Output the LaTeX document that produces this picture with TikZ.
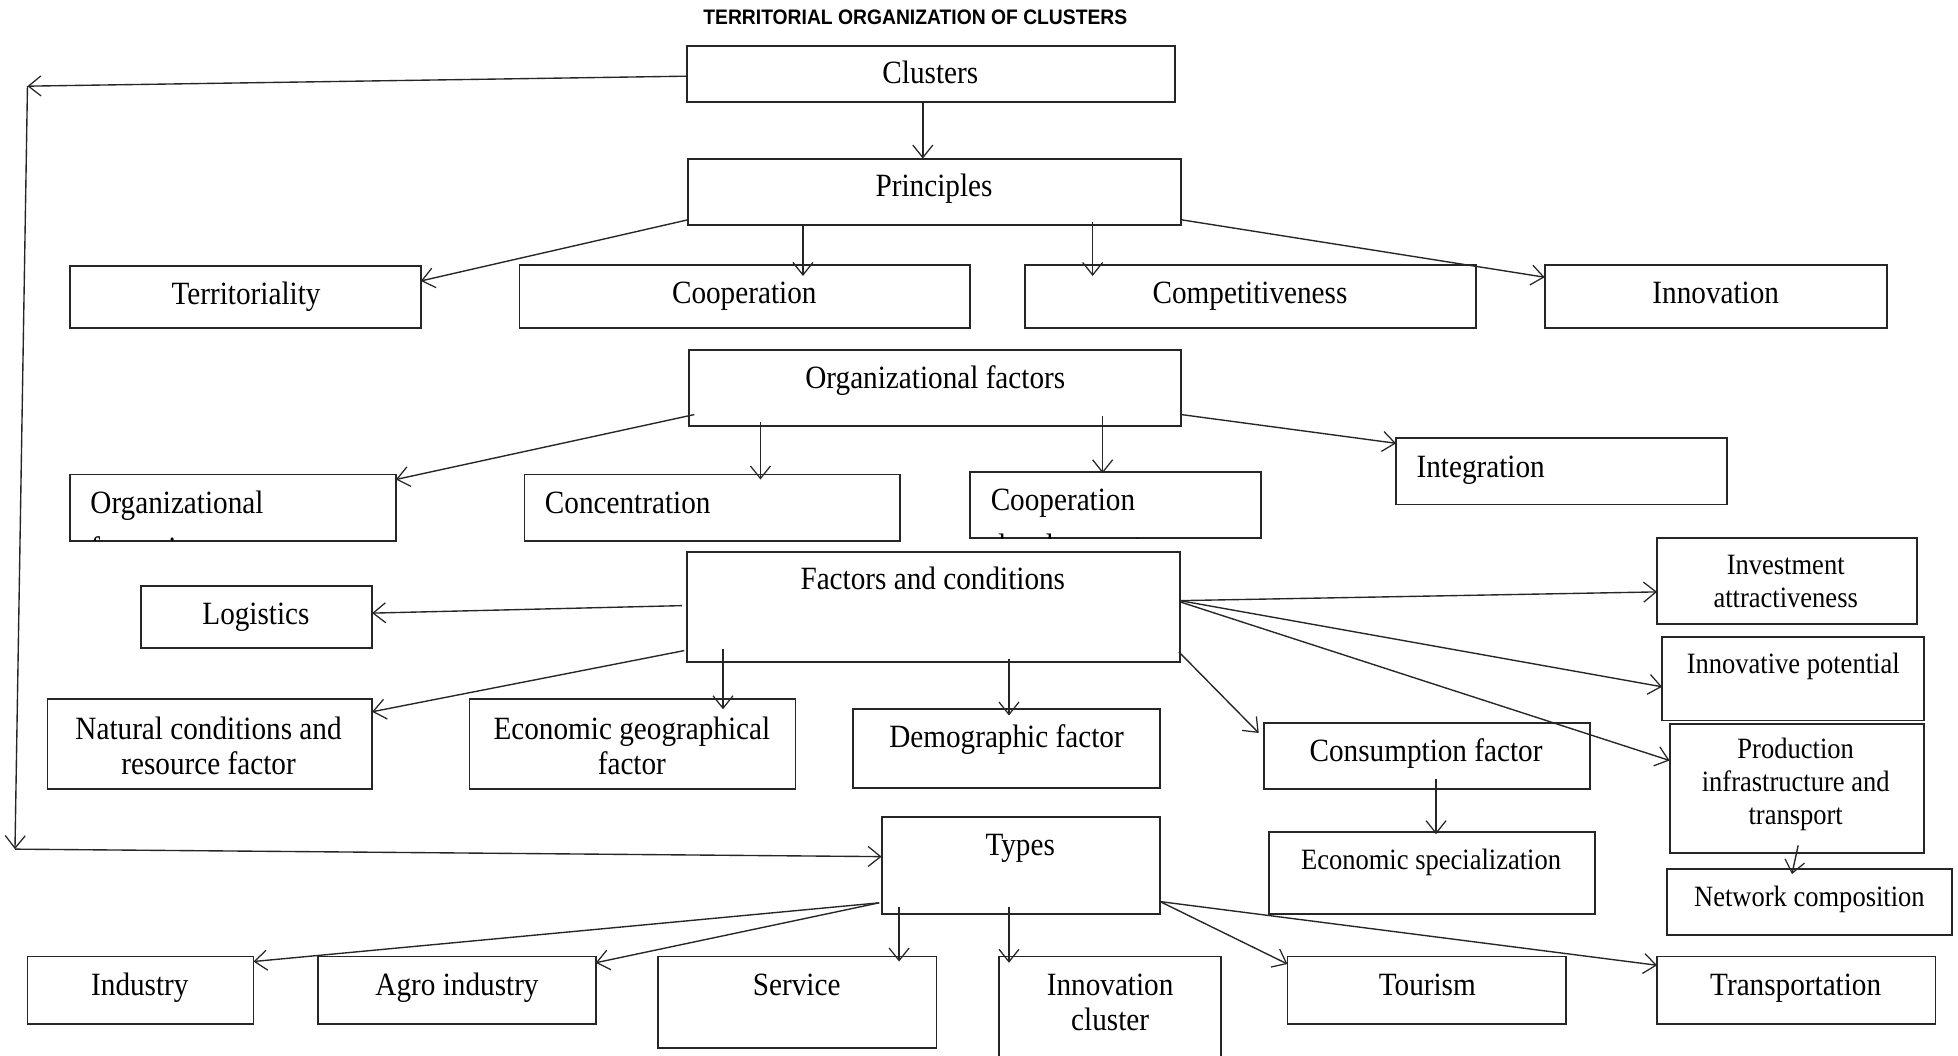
\documentclass[tikz,border=0pt]{standalone}
\usepackage{fontspec}
\setmainfont{Liberation Serif}[FakeStretch=0.90]
\newfontfamily\titlefont{Liberation Sans}[FakeStretch=0.92]
\usetikzlibrary{arrows.meta,fit,calc}
\newcommand\mkbox[5]{\path (#2,#3) coordinate (#1-nw) (#4,#5) coordinate (#1-se); \node[box, fit=(#1-nw)(#1-se)] (#1) {};}
\begin{document}
\begin{tikzpicture}[x=0.5pt,y=-0.5pt,
 box/.style={draw=black!85, line width=0.75pt, inner sep=0pt, outer sep=0pt},
 txt/.style={font=\fontsize{13}{14}\selectfont, inner sep=0pt, align=center, text=black},
 stxt/.style={font=\fontsize{11.8}{13.2}\selectfont, inner sep=0pt, align=center, text=black},
 one/.style={anchor=base},
 arr/.style={-{Straight Barb[length=5pt,width=8pt,line width=0.5pt]}, line width=0.55pt, black!85}]
\clip (0,0) rectangle (1568,845);
\fill[white] (0,0) rectangle (1568,845);

\node[font=\titlefont\bfseries\fontsize{8.4}{10}\selectfont, inner sep=0pt] (title) at (733,14) {TERRITORIAL ORGANIZATION OF CLUSTERS};

% boxes
\mkbox{clusters}{550}{37}{941}{82}
\mkbox{principles}{551}{127}{946}{180}
\mkbox{terr}{56}{213}{337}{263}
\mkbox{coop}{416}{212}{777}{263}
\mkbox{comp}{821}{212}{1182}{263}
\mkbox{innov}{1237}{212}{1511}{263}
\mkbox{orgfac}{552}{280}{946}{341}
\mkbox{orgf}{56}{380}{317}{433}
\mkbox{conc}{420}{380}{721}{433}
\mkbox{coopd}{777}{378}{1010}{431}
\mkbox{integ}{1118}{351}{1383}{404}
\mkbox{fac}{550}{442}{945}{530}
\mkbox{logi}{113}{469}{298}{519}
\mkbox{invest}{1327}{431}{1535}{500}
\mkbox{innpot}{1331}{510}{1541}{577}
\mkbox{nat}{38}{560}{298}{632}
\mkbox{econg}{376}{560}{637}{632}
\mkbox{demo}{683}{568}{929}{631}
\mkbox{cons}{1012}{579}{1273}{632}
\mkbox{prod}{1337}{580}{1541}{683}
\mkbox{econs}{1016}{666}{1277}{732}
\mkbox{netw}{1335}{696}{1563}{749}
\mkbox{types}{706}{654}{929}{732}
\mkbox{ind}{22}{766}{203}{820}
\mkbox{agro}{255}{766}{477}{820}
\mkbox{serv}{527}{766}{750}{839}
\mkbox{innc}{800}{766}{978}{870}
\mkbox{tour}{1031}{766}{1254}{820}
\mkbox{transp}{1327}{766}{1550}{820}

% texts
\node[txt,one] (clusters-t) at (745,67) {Clusters};
\node[txt,one] (principles-t) at (748,157) {Principles};
\node[txt,one] (terr-t) at (197,244) {Territoriality};
\node[txt,one] (coop-t) at (596,243) {Cooperation};
\node[txt,one] (comp-t) at (1001,243) {Competitiveness};
\node[txt,one] (innov-t) at (1374,243) {Innovation};
\node[txt,one] (orgfac-t) at (749,311) {Organizational factors};
\begin{scope}
\clip (orgf.south west) rectangle (orgf.north east);
\node[txt, anchor=base west] (orgf-t) at (72,411) {Organizational};
\node[txt, anchor=base west] (orgf-t2) at (72,448) {formation};
\end{scope}
\node[txt, anchor=base west] (conc-t) at (436,411) {Concentration};
\begin{scope}
\clip (coopd.south west) rectangle (coopd.north east);
\node[txt, anchor=base west] (coopd-t) at (793,409) {Cooperation};
\node[txt, anchor=base west] (coopd-t2) at (793,446) {development};
\end{scope}
\node[txt, anchor=base west] (integ-t) at (1134,382) {Integration};
\node[txt,one] (fac-t) at (747,472) {Factors and conditions};
\node[txt,one] (logi-t) at (205,500) {Logistics};
\node[stxt] (invest-t) at (1430,466) {Investment\\attractiveness};
\node[stxt,one] (innpot-t) at (1436,539) {Innovative potential};
\node[txt] (nat-t) at (167,597) {Natural conditions and\\resource factor};
\node[txt] (econg-t) at (506,597) {Economic geographical\\factor};
\node[txt,one] (demo-t) at (806,599) {Demographic factor};
\node[txt,one] (cons-t) at (1142,610) {Consumption factor};
\node[stxt] (prod-t) at (1438,628) {Production\\infrastructure and\\transport};
\node[stxt,one] (econs-t) at (1146,696) {Economic specialization};
\node[stxt,one] (netw-t) at (1449,726) {Network composition};
\node[txt,one] (types-t) at (817,685) {Types};
\node[txt,one] (ind-t) at (112,797) {Industry};
\node[txt,one] (agro-t) at (366,797) {Agro industry};
\node[txt,one] (serv-t) at (638,797) {Service};
\node[txt] (innc-t) at (889,803) {Innovation\\cluster};
\node[txt,one] (tour-t) at (1143,797) {Tourism};
\node[txt,one] (transp-t) at (1438,797) {Transportation};

% side connector
\coordinate (cA) at (22,69);
\coordinate (cB) at (12,680);
\draw[arr] (clusters.west |- 0,61) -- (cA);
\draw[arr] (cA) -- (cB);
\draw[arr] (cB) -- (types.west |- 0,686);

% clusters / principles
\draw[arr] (clusters.south -| 739,0) -- (principles.north -| 739,0);
\draw[arr] (principles.west |- 0,176) -- (terr.east |- 0,225);
\draw[arr] (principles.south -| 643,0) -- ($(coop.north -| 643,0)+(0,9)$);
\draw[arr] ($(principles.south -| 875,0)+(0,-2)$) -- ($(comp.north -| 875,0)+(0,9)$);
\draw[arr] (principles.east |- 0,176) -- (innov.west |- 0,222);

% organizational factors
\draw[arr] ($(orgfac.west |- 0,332)+(4,0)$) -- (orgf.east |- 0,384);
\draw[arr] ($(orgfac.south -| 609,0)+(0,-3)$) -- ($(conc.north -| 609,0)+(0,4)$);
\draw[arr] ($(orgfac.south -| 883,0)+(0,-8)$) -- ($(coopd.north -| 883,0)+(0,1)$);
\draw[arr] (orgfac.east |- 0,332) -- (integ.west |- 0,355);

% factors and conditions
\draw[arr] ($(fac.west |- 0,485)+(-4,0)$) -- (logi.east |- 0,491);
\draw[arr] ($(fac.west |- 0,521)+(-2,0)$) -- (nat.east |- 0,570);
\draw[arr] ($(fac.south -| 579,0)+(0,-10)$) -- ($(econg.north -| 579,0)+(0,8)$);
\draw[arr] ($(fac.south -| 808,0)+(0,-2)$) -- ($(demo.north -| 808,0)+(0,5)$);
\draw[arr] ($(fac.east |- 0,522)+(-1,0)$) -- ($(cons.west |- 0,587)+(-4,0)$);
\draw[arr] (fac.east |- 0,481) -- (invest.west |- 0,474);
\draw[arr] (fac.east |- 0,481) -- (innpot.west |- 0,550);
\draw[arr] (fac.east |- 0,482) -- (prod.west |- 0,609);
\draw[arr] ($(cons.south -| 1150,0)+(0,-8)$) -- ($(econs.north -| 1150,0)+(0,2)$);
\draw[arr] ($(prod.south -| 1440,0)+(0,-6)$) -- ($(netw.north -| 1435,0)+(0,4)$);

% types
\draw[arr] ($(types.west |- 0,723)+(-2,0)$) -- (ind.east |- 0,770);
\draw[arr] ($(types.west |- 0,723)+(-2,0)$) -- (agro.east |- 0,771);
\draw[arr] ($(types.south -| 720,0)+(0,-6)$) -- ($(serv.north -| 720,0)+(0,4)$);
\draw[arr] ($(types.south -| 808,0)+(0,-6)$) -- ($(innc.north -| 808,0)+(0,5)$);
\draw[arr] (types.east |- 0,722) -- (tour.west |- 0,772);
\draw[arr] (types.east |- 0,722) -- (transp.west |- 0,773);
\end{tikzpicture}
\end{document}
